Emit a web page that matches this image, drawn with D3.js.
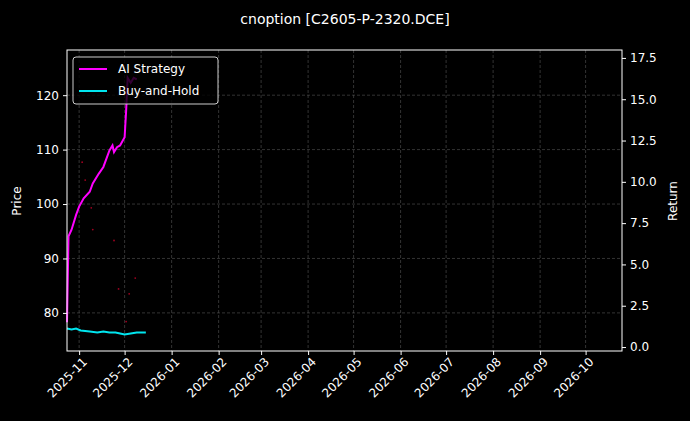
<!DOCTYPE html>
<html><head><meta charset="utf-8">
<script src="https://cdn.jsdelivr.net/npm/d3@7"></script>
<style>body{margin:0;background:#000}svg{display:block}</style>
</head><body><svg id="viz" width="690" height="421"></svg>
<script>
// AI strategy return curve
var aiDates = ["2025-10-24","2025-10-25","2025-10-27","2025-10-30","2025-11-01","2025-11-04","2025-11-08","2025-11-10","2025-11-14","2025-11-17","2025-11-21","2025-11-23","2025-11-24","2025-11-26","2025-11-28","2025-12-01","2025-12-02","2025-12-03","2025-12-05","2025-12-07","2025-12-09"];
var aiReturn = [1.5,6.7,7.1,8.0,8.5,9.0,9.4,9.9,10.5,10.9,11.9,12.2,11.8,12.1,12.2,12.7,14.3,16.3,16.0,16.3,16.2];
// buy and hold
var bhDates = ["2025-10-24","2025-10-27","2025-10-30","2025-11-02","2025-11-08","2025-11-13","2025-11-17","2025-11-21","2025-11-25","2025-11-28","2025-12-01","2025-12-05","2025-12-09","2025-12-15"];
var bhReturn = [1.12,1.06,1.12,1.0,0.94,0.88,0.94,0.88,0.88,0.82,0.76,0.82,0.88,0.88];
// scattered price points
var priceDates = ["2025-11-03","2025-11-05","2025-11-09","2025-11-10","2025-11-24","2025-11-27","2025-12-02","2025-12-04","2025-12-08"];
var priceVals = [107.7,104.4,99.3,95.3,93.3,84.4,78.4,83.5,86.4];
var priceTicks = [80,90,100,110,120];
var returnTicks = [0,2.5,5,7.5,10,12.5,15,17.5];

var parse = d3.timeParse("%Y-%m-%d");
var svg = d3.select("#viz");
var L = 67, R = 622, T = 50, B = 351;

var x = d3.scaleTime().domain([parse("2025-10-24"), parse("2026-10-25")]).range([L, R]);
var yP = d3.scaleLinear().domain([73.0, 128.3]).range([B, T]);
var yR = d3.scaleLinear().domain([-0.24, 17.98]).range([B, T]);
var months = d3.timeMonth.range(parse("2025-11-01"), parse("2026-10-02"));

var font = "DejaVu Sans, sans-serif";

// grid
svg.append("g").selectAll("line").data(months).enter().append("line")
    .attr("x1", function(d){return x(d);}).attr("x2", function(d){return x(d);})
    .attr("y1", T).attr("y2", B)
    .attr("stroke", "#555").attr("stroke-width", 0.6).attr("stroke-dasharray", "3,2");
svg.append("g").selectAll("line").data(priceTicks).enter().append("line")
    .attr("x1", L).attr("x2", R)
    .attr("y1", function(d){return yP(d);}).attr("y2", function(d){return yP(d);})
    .attr("stroke", "#555").attr("stroke-width", 0.6).attr("stroke-dasharray", "3,2");

// price dots
svg.append("g").selectAll("circle").data(priceDates).enter().append("circle")
    .attr("cx", function(d){return x(parse(d));})
    .attr("cy", function(d, i){return yP(priceVals[i]);})
    .attr("r", 0.9).attr("fill", "#a00020");

var line = d3.line().x(function(d){return x(d[0]);}).y(function(d){return yR(d[1]);});
svg.append("path").datum(aiDates.map(function(d, i){return [parse(d), aiReturn[i]];}))
    .attr("d", line).attr("fill", "none").attr("stroke", "#ff00ff").attr("stroke-width", 2);
svg.append("path").datum(bhDates.map(function(d, i){return [parse(d), bhReturn[i]];}))
    .attr("d", line).attr("fill", "none").attr("stroke", "#00e5ee").attr("stroke-width", 2);

// frame
svg.append("rect").attr("x", L).attr("y", T).attr("width", R - L).attr("height", B - T)
    .attr("fill", "none").attr("stroke", "#fff").attr("stroke-width", 1);

function styleAxis(g) {
    g.select(".domain").remove();
    g.selectAll("line").attr("stroke", "#fff");
    g.selectAll("text").attr("fill", "#fff").style("font-family", font).style("font-size", "12px");
}
svg.append("g").attr("transform", "translate(0," + B + ")")
    .call(d3.axisBottom(x).tickValues(months).tickFormat(d3.timeFormat("%Y-%m")).tickSize(4).tickPadding(3))
    .call(styleAxis)
    .selectAll("text").attr("text-anchor", "end").attr("dx", "-0.2em").attr("dy", "0.6em")
    .attr("transform", "rotate(-45)");
svg.append("g").attr("transform", "translate(" + L + ",0)")
    .call(d3.axisLeft(yP).tickValues(priceTicks).tickSize(4).tickPadding(4))
    .call(styleAxis);
svg.append("g").attr("transform", "translate(" + R + ",0)")
    .call(d3.axisRight(yR).tickValues(returnTicks).tickFormat(d3.format(".1f")).tickSize(4).tickPadding(4))
    .call(styleAxis);

svg.append("text").attr("x", 345).attr("y", 24).attr("text-anchor", "middle")
    .attr("fill", "#fff").style("font-family", font).style("font-size", "14px")
    .text("cnoption [C2605-P-2320.DCE]");
svg.append("text").attr("transform", "translate(21,201) rotate(-90)").attr("text-anchor", "middle")
    .attr("fill", "#fff").style("font-family", font).style("font-size", "12px").text("Price");
svg.append("text").attr("transform", "translate(677,201) rotate(-90)").attr("text-anchor", "middle")
    .attr("fill", "#fff").style("font-family", font).style("font-size", "12px").text("Return");

// legend
var lg = svg.append("g").attr("transform", "translate(73,57)");
lg.append("rect").attr("width", 145).attr("height", 47).attr("rx", 3)
    .attr("fill", "#000").attr("fill-opacity", 0.8).attr("stroke", "#ccc");
var names = ["AI Strategy", "Buy-and-Hold"], cols = ["#ff00ff", "#00e5ee"];
names.forEach(function(n, i) {
    lg.append("line").attr("x1", 6).attr("x2", 34).attr("y1", 12 + i * 22).attr("y2", 12 + i * 22)
        .attr("stroke", cols[i]).attr("stroke-width", 2);
    lg.append("text").attr("x", 45).attr("y", 16 + i * 22).attr("fill", "#fff")
        .style("font-family", font).style("font-size", "12px").text(n);
});
</script></body></html>
